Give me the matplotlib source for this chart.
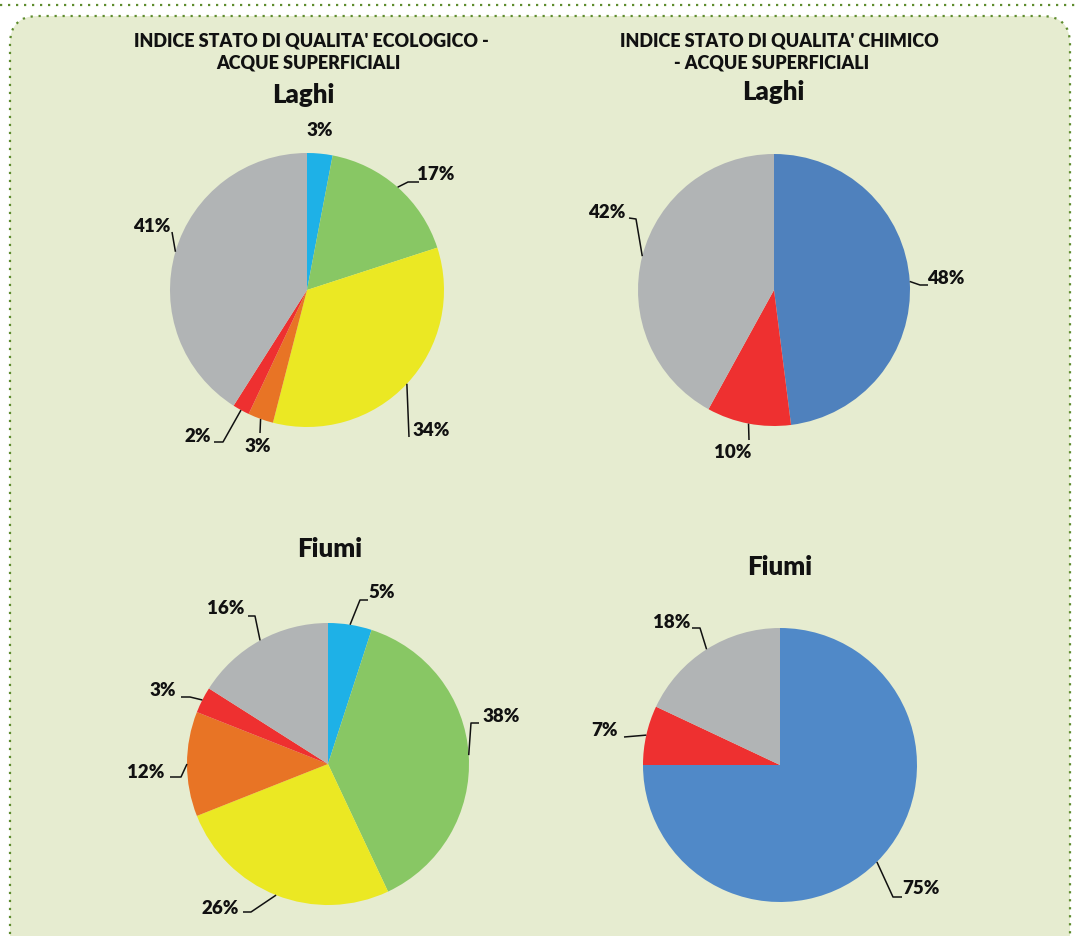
import numpy as np
import matplotlib.pyplot as plt
from matplotlib.patches import FancyBboxPatch
from matplotlib.lines import Line2D

plt.rcParams['font.family'] = ['Lato', 'DejaVu Sans']

# data
eco_colors = ['#1EB1E7', '#88C764', '#EBE823', '#E87425', '#EE3030', '#B1B4B5']
eco_laghi = [3, 17, 34, 3, 2, 41]
eco_fiumi = [5, 38, 26, 12, 3, 16]
chem_laghi = [48, 10, 42]
chem_fiumi = [75, 7, 18]
chem_colors_laghi = ['#4F81BD', '#EE3030', '#B1B4B5']
chem_colors_fiumi = ['#5089C8', '#EE3030', '#B1B4B5']

title_eco = ["INDICE STATO DI QUALITA' ECOLOGICO -", "ACQUE SUPERFICIALI"]
title_chem = ["INDICE STATO DI QUALITA' CHIMICO", "- ACQUE SUPERFICIALI"]

W, H = 1077, 936
BG = '#E6ECD0'
DOT = '#5E8C2E'
INK = '#111111'
WEIGHT = 'heavy'


def P(x, y):
    # pixel coords (origin top-left) -> data coords
    return x, H - y


fig = plt.figure(figsize=(W / 100, H / 100), dpi=100)
ax = fig.add_axes([0, 0, 1, 1])

# rounded dotted panel
panel = FancyBboxPatch((10, -40), 1060, H - 16 + 40,
                       boxstyle='round,pad=0,rounding_size=28',
                       facecolor=BG, edgecolor=DOT, linewidth=1.6,
                       linestyle=(0, (1, 2.6)), zorder=0)
ax.add_patch(panel)
ax.add_line(Line2D([0, W], [H - 5, H - 5], color=DOT, linewidth=1.6,
                   linestyle=(0, (1, 2.6)), zorder=0))

# (center, radius, values, colors, label layout)
# label layout per slice: (text_xy, [leader points after the edge])
pies = [
    ((307, 290), 137, eco_laghi, eco_colors, [
        ((320, 131), []),
        ((436, 174), [(408, 182), (419, 182)]),
        ((431, 431), [(409, 437)]),
        ((258, 447), [(260, 433)]),
        ((198, 437), [(223, 442), (214, 442)]),
        ((152, 226), [(172, 232)]),
    ]),
    ((774, 290), 136, chem_laghi, chem_colors_laghi, [
        ((946, 279), [(920, 285), (928, 285)]),
        ((733, 453), [(749, 440)]),
        ((607, 212), [(636, 219), (629, 218)]),
    ]),
    ((328, 764), 141, eco_fiumi, eco_colors, [
        ((382, 593), [(360, 600), (368, 600)]),
        ((501, 716), [(471, 723), (479, 723)]),
        ((220, 908), [(251, 912), (243, 912)]),
        ((146, 772), [(181, 777), (170, 777)]),
        ((163, 690), [(190, 697), (181, 697)]),
        ((226, 608), [(255, 616), (248, 616)]),
    ]),
    ((780, 765), 137, chem_fiumi, chem_colors_fiumi, [
        ((921, 889), [(893, 897), (902, 897)]),
        ((605, 731), [(624, 737)]),
        ((672, 622), [(700, 628), (692, 628)]),
    ]),
]

for center, r, vals, cols, layout in pies:
    cx, cy = P(*center)
    wedges, _ = ax.pie(vals, colors=cols, startangle=90, counterclock=False,
                       center=(cx, cy), radius=r, frame=True,
                       wedgeprops=dict(linewidth=0))
    for w, v, (txy, pts) in zip(wedges, vals, layout):
        ax.text(*P(*txy), f'{v}%', ha='center', va='center',
                fontsize=13.5, fontweight=WEIGHT, color=INK)
        if pts:
            mid = np.deg2rad((w.theta1 + w.theta2) / 2)
            ex, ey = cx + r * np.cos(mid), cy + r * np.sin(mid)
            xs = [ex] + [p[0] for p in pts]
            ys = [ey] + [H - p[1] for p in pts]
            ax.plot(xs, ys, color=INK, linewidth=1.1, solid_capstyle='butt')

# titles
for (x, y), s in zip([(311, 41), (308, 63)], title_eco):
    ax.text(*P(x, y), s, ha='center', va='center',
            fontsize=13, fontweight=WEIGHT, color=INK)
for (x, y), s in zip([(779, 41), (772, 63)], title_chem):
    ax.text(*P(x, y), s, ha='center', va='center',
            fontsize=13, fontweight=WEIGHT, color=INK)
for (x, y), s in zip([(303, 95), (773, 92), (330, 549), (780, 567)],
                     ['Laghi', 'Laghi', 'Fiumi', 'Fiumi']):
    ax.text(*P(x, y), s, ha='center', va='center',
            fontsize=18.5, fontweight=WEIGHT, color=INK)

ax.set_xlim(0, W)
ax.set_ylim(0, H)
ax.set_aspect('equal')
ax.axis('off')
fig.savefig('out.png', dpi=100, facecolor='white')
